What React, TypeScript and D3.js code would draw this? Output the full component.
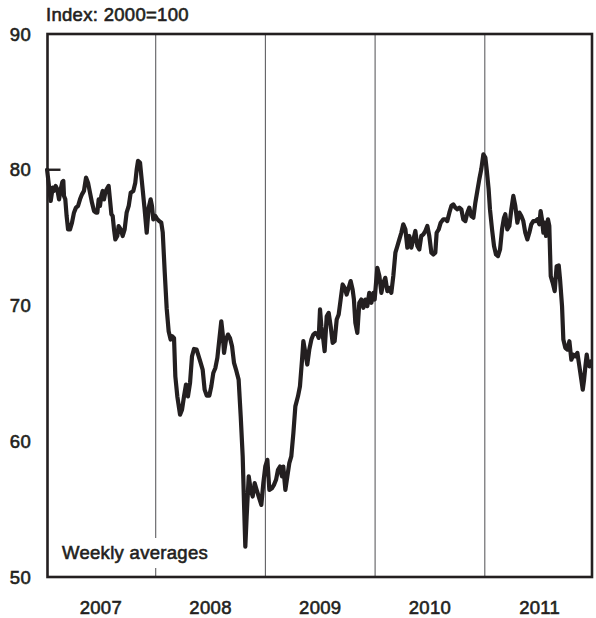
import React from "react";
import * as d3 from "d3";

// Decimal-year dates of the weekly observations
const dates: number[] = [
  2007.010, 2007.043, 2007.061, 2007.073, 2007.088, 2007.103, 2007.119, 2007.134, 2007.149, 2007.158,
  2007.164, 2007.176, 2007.188, 2007.201, 2007.219, 2007.237, 2007.255, 2007.273, 2007.292, 2007.310,
  2007.328, 2007.346, 2007.365, 2007.383, 2007.401, 2007.419, 2007.438, 2007.456, 2007.468, 2007.480,
  2007.492, 2007.504, 2007.517, 2007.529, 2007.541, 2007.553, 2007.571, 2007.583, 2007.596, 2007.608,
  2007.620, 2007.632, 2007.650, 2007.662, 2007.681, 2007.699, 2007.717, 2007.735, 2007.754, 2007.772,
  2007.796, 2007.814, 2007.827, 2007.839, 2007.857, 2007.869, 2007.881, 2007.899, 2007.918, 2007.936,
  2007.954, 2007.966, 2007.978, 2007.997, 2008.015, 2008.033, 2008.051, 2008.064, 2008.082, 2008.100,
  2008.118, 2008.136, 2008.149, 2008.167, 2008.179, 2008.197, 2008.222, 2008.240, 2008.258, 2008.276,
  2008.294, 2008.313, 2008.331, 2008.349, 2008.373, 2008.392, 2008.410, 2008.428, 2008.446, 2008.465,
  2008.489, 2008.507, 2008.525, 2008.544, 2008.562, 2008.580, 2008.598, 2008.610, 2008.623, 2008.641,
  2008.659, 2008.677, 2008.696, 2008.714, 2008.732, 2008.756, 2008.775, 2008.793, 2008.805, 2008.817,
  2008.829, 2008.848, 2008.866, 2008.884, 2008.902, 2008.920, 2008.939, 2008.963, 2008.981, 2008.999,
  2009.018, 2009.036, 2009.060, 2009.078, 2009.097, 2009.115, 2009.133, 2009.151, 2009.163, 2009.182,
  2009.200, 2009.218, 2009.236, 2009.255, 2009.273, 2009.297, 2009.315, 2009.334, 2009.346, 2009.364,
  2009.382, 2009.400, 2009.419, 2009.437, 2009.455, 2009.473, 2009.486, 2009.498, 2009.510, 2009.528,
  2009.540, 2009.559, 2009.577, 2009.595, 2009.613, 2009.631, 2009.650, 2009.668, 2009.686, 2009.704,
  2009.722, 2009.741, 2009.759, 2009.777, 2009.795, 2009.807, 2009.820, 2009.838, 2009.856, 2009.874,
  2009.893, 2009.911, 2009.929, 2009.947, 2009.966, 2009.984, 2009.996, 2010.020, 2010.039, 2010.057,
  2010.075, 2010.093, 2010.112, 2010.130, 2010.148, 2010.166, 2010.185, 2010.203, 2010.221, 2010.239,
  2010.257, 2010.276, 2010.294, 2010.312, 2010.330, 2010.349, 2010.367, 2010.385, 2010.403, 2010.421,
  2010.440, 2010.458, 2010.476, 2010.494, 2010.513, 2010.531, 2010.549, 2010.561, 2010.580, 2010.598,
  2010.622, 2010.640, 2010.658, 2010.677, 2010.695, 2010.713, 2010.731, 2010.750, 2010.768, 2010.786,
  2010.804, 2010.823, 2010.841, 2010.859, 2010.877, 2010.896, 2010.914, 2010.932, 2010.950, 2010.968,
  2010.987, 2011.005, 2011.017, 2011.035, 2011.047, 2011.066, 2011.084, 2011.102, 2011.120, 2011.139,
  2011.157, 2011.175, 2011.187, 2011.205, 2011.224, 2011.242, 2011.260, 2011.278, 2011.297, 2011.315,
  2011.333, 2011.351, 2011.369, 2011.388, 2011.406, 2011.424, 2011.442, 2011.460, 2011.479, 2011.497,
  2011.509, 2011.521, 2011.534, 2011.546, 2011.558, 2011.576, 2011.588, 2011.601, 2011.619, 2011.637,
  2011.655, 2011.674, 2011.686, 2011.704, 2011.716, 2011.734, 2011.753, 2011.771, 2011.789, 2011.807,
  2011.825, 2011.844, 2011.862, 2011.880, 2011.893, 2011.905, 2011.917, 2011.929, 2011.942, 2011.954,
  2011.966,
];

// Index values (2000=100), weekly averages
const values: number[] = [
  80.00, 77.70, 78.68, 78.44, 78.81, 78.56, 77.82, 78.56, 79.10, 79.18,
  78.07, 77.82, 76.59, 75.61, 75.61, 76.10, 76.84, 77.21, 77.33, 77.82,
  78.19, 78.44, 79.42, 79.05, 78.31, 77.58, 76.96, 76.84, 76.84, 77.82,
  77.33, 78.07, 78.44, 77.82, 78.31, 78.56, 78.81, 77.82, 76.72, 76.59,
  75.61, 74.87, 75.12, 75.85, 75.61, 75.12, 75.61, 76.84, 77.33, 78.31,
  78.44, 79.05, 80.04, 80.65, 80.53, 79.54, 78.56, 77.08, 75.36, 77.21,
  77.82, 77.33, 76.35, 76.59, 76.35, 76.22, 76.10, 75.40, 72.50, 69.80,
  68.11, 67.49, 67.74, 67.61, 64.78, 63.31, 61.96, 62.33, 63.31, 64.17,
  63.31, 64.29, 66.26, 66.80, 66.75, 66.26, 65.77, 65.28, 63.80, 63.36,
  63.36, 64.05, 65.03, 65.40, 66.14, 67.49, 68.84, 67.98, 66.51, 67.49,
  67.86, 67.61, 67.00, 65.77, 65.28, 64.54, 61.83, 58.88, 55.44, 52.24,
  54.45, 57.41, 56.42, 55.93, 56.91, 56.42, 55.93, 55.31, 56.91, 58.14,
  58.63, 56.42, 56.54, 56.79, 57.16, 57.90, 58.14, 57.41, 58.14, 56.42,
  57.41, 58.39, 58.88, 60.60, 62.57, 63.31, 64.05, 66.01, 67.37, 66.51,
  65.65, 66.75, 67.49, 67.86, 67.98, 67.86, 67.61, 69.71, 68.47, 67.49,
  66.63, 69.21, 69.46, 68.47, 67.25, 67.37, 68.97, 69.34, 70.44, 71.55,
  71.30, 70.81, 71.30, 71.80, 71.18, 70.44, 68.72, 67.98, 70.20, 70.44,
  69.83, 70.44, 69.95, 70.93, 70.20, 70.93, 70.44, 72.78, 72.17, 70.93,
  71.67, 72.04, 71.06, 71.30, 70.93, 72.17, 73.89, 74.38, 74.87, 75.36,
  75.98, 75.61, 74.26, 75.12, 74.26, 74.87, 75.49, 74.38, 74.13, 75.12,
  75.24, 75.49, 75.86, 75.12, 73.89, 73.76, 73.89, 75.36, 75.61, 76.10,
  76.35, 76.35, 76.22, 76.84, 77.33, 77.45, 77.21, 77.09, 77.21, 77.09,
  76.35, 76.22, 76.84, 77.21, 76.59, 76.47, 77.58, 78.44, 79.30, 80.04,
  81.14, 80.90, 80.04, 78.56, 77.09, 75.61, 74.38, 73.76, 73.64, 74.13,
  75.61, 76.47, 76.72, 75.61, 75.86, 77.09, 78.07, 77.33, 76.10, 76.84,
  76.59, 76.22, 75.36, 74.87, 75.36, 75.98, 76.22, 76.22, 76.35, 75.98,
  76.96, 76.35, 75.36, 76.10, 75.12, 76.35, 75.86, 72.17, 71.67, 71.06,
  72.90, 72.95, 71.92, 69.95, 67.49, 66.88, 66.75, 67.37, 66.01, 66.38,
  66.26, 66.51, 65.52, 64.54, 63.80, 64.54, 65.52, 66.38, 65.65, 65.52,
  65.89,
];

const yearLabels: string[] = ["2007", "2008", "2009", "2010", "2011"];
const yearBoundaries: number[] = [2008, 2009, 2010, 2011];
const yTicks: number[] = [50, 60, 70, 80, 90];
const unitLabel = "Index: 2000=100";
const noteLabel = "Weekly averages";

const W = 596;
const H = 618;
const INK = "#231f20";
const FONT = "'Liberation Sans', Arial, Helvetica, sans-serif";

export default function App() {
  const left = 47.5;
  const right = 592;
  const top = 34;
  const bottom = 577;

  const x = d3.scaleLinear().domain([2007, 2012]).range([46, 594.5]);
  const y = d3.scaleLinear().domain([50, 90]).range([bottom, top]);

  const pts: [number, number][] = dates.map((d, i) => [d, values[i]]);
  const line = d3
    .line<[number, number]>()
    .x((d) => x(d[0]))
    .y((d) => y(d[1]));

  const textStyle: React.CSSProperties = {
    fontFamily: FONT,
    fontSize: 18.5,
    letterSpacing: 0.3,
    fill: INK,
    stroke: INK,
    strokeWidth: 0.6,
  };

  return (
    <svg
      width={W}
      height={H}
      viewBox={`0 0 ${W} ${H}`}
      style={{ position: "absolute", left: 0, top: 0, background: "#fff" }}
    >
      <rect x={0} y={0} width={W} height={H} fill="#fff" />
      {/* year boundary gridlines */}
      {yearBoundaries.map((yr) => (
        <line
          key={yr}
          x1={x(yr)}
          x2={x(yr)}
          y1={top}
          y2={bottom}
          stroke="#5f5f62"
          strokeWidth={1.1}
        />
      ))}
      {/* note label with white background */}
      <rect x={58} y={538} width={154} height={30} fill="#fff" />
      <text x={62} y={559} style={textStyle}>
        {noteLabel}
      </text>
      {/* data line */}
      <path
        d={line(pts) || ""}
        fill="none"
        stroke={INK}
        strokeWidth={4.2}
        strokeLinejoin="round"
        strokeLinecap="round"
      />
      {/* small tick at 80 */}
      <line x1={left} x2={left + 13} y1={y(80)} y2={y(80)} stroke={INK} strokeWidth={2.4} />
      {/* frame */}
      <rect
        x={left}
        y={top}
        width={right - left}
        height={bottom - top}
        fill="none"
        stroke={INK}
        strokeWidth={2.6}
      />
      {/* y tick labels */}
      {yTicks.map((t) => (
        <text
          key={t}
          x={31}
          y={y(t)}
          dy="0.36em"
          textAnchor="end"
          style={textStyle}
        >
          {t}
        </text>
      ))}
      {/* unit label */}
      <text x={46} y={20.5} style={textStyle}>
        {unitLabel}
      </text>
      {/* year labels */}
      {yearLabels.map((lab) => (
        <text
          key={lab}
          x={x(+lab + 0.5)}
          y={614}
          textAnchor="middle"
          style={textStyle}
        >
          {lab}
        </text>
      ))}
    </svg>
  );
}
